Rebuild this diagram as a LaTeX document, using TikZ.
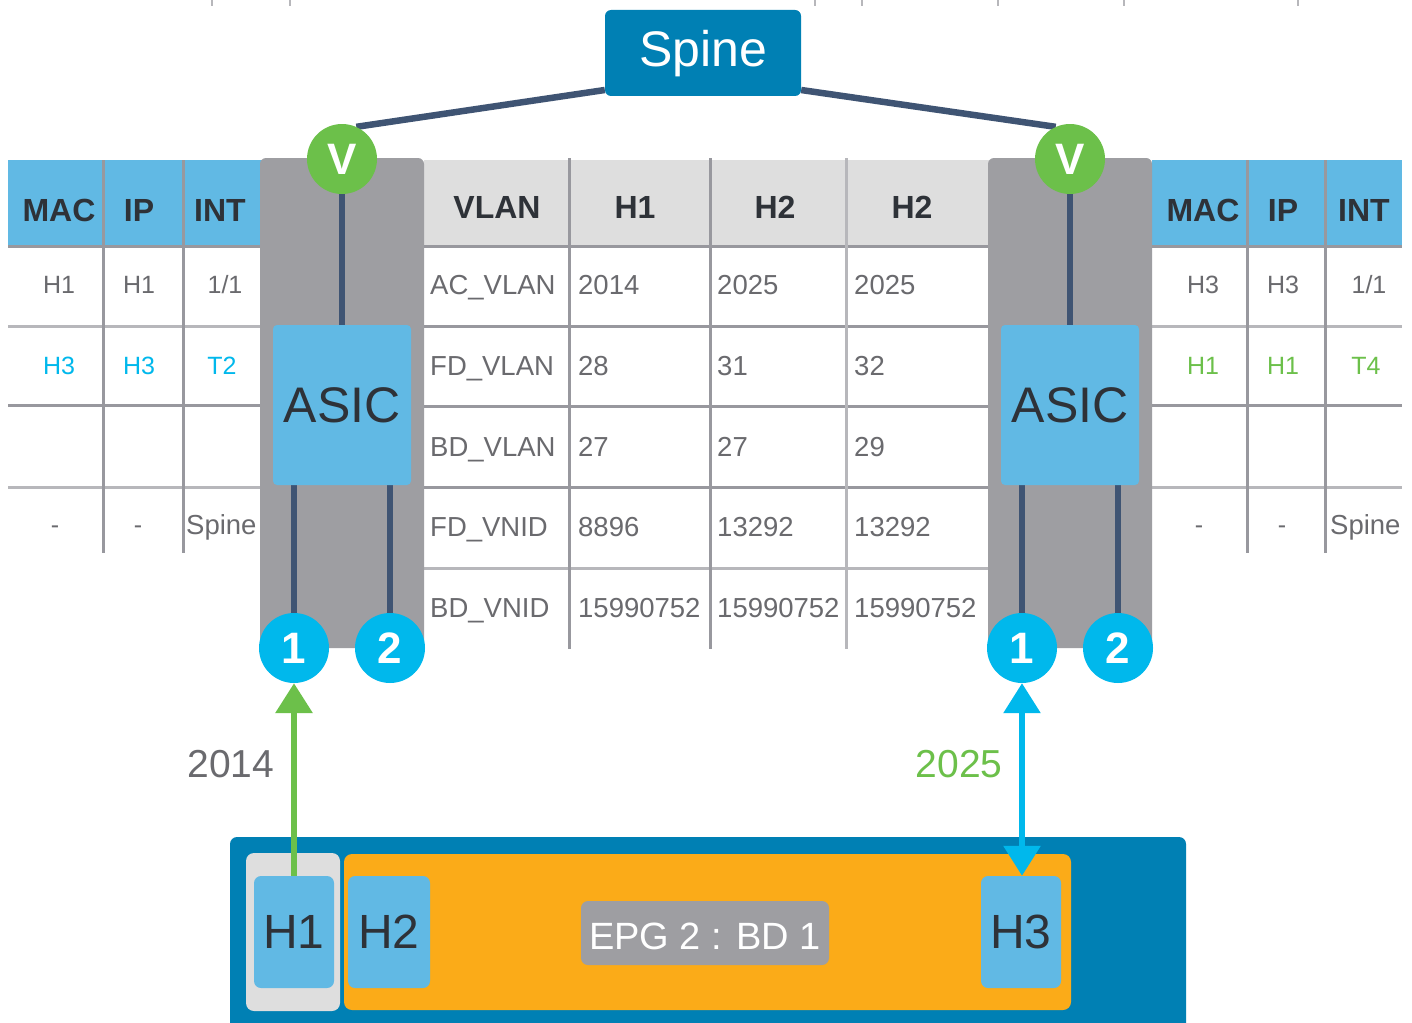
\documentclass[tikz,border=0pt]{standalone}
\usepackage{fontspec}
\setmainfont{Liberation Sans}
\usetikzlibrary{arrows.meta}
\pgfdeclarelayer{base}
\pgfdeclarelayer{linklayer}
\pgfsetlayers{base,linklayer,main}
\definecolor{teal}{HTML}{0080B4}
\definecolor{sky}{HTML}{61B9E4}
\definecolor{cyanb}{HTML}{00B8EC}
\definecolor{grn}{HTML}{6CC04A}
\definecolor{panel}{HTML}{9E9EA2}
\definecolor{navy}{HTML}{3F5473}
\definecolor{rule}{HTML}{98989E}
\definecolor{hdr}{HTML}{DEDEDE}
\definecolor{orng}{HTML}{FBAB18}
\definecolor{txt}{HTML}{6A6A6E}
\definecolor{dark}{HTML}{2E3238}
\tikzset{
 x=1pt,y=-1pt,
 cell/.style={font=\fontsize{25}{25}\selectfont,text=txt,inner sep=0pt,anchor=center},
 lcell/.style={font=\fontsize{27.5}{27.5}\selectfont,text=txt,inner sep=0pt,anchor=base west},
 head/.style={font=\fontsize{32}{32}\selectfont\bfseries,text=dark,inner sep=0pt,anchor=center},
 gridline/.style={rule,line width=3pt},
 link/.style={navy,line width=6.5pt},
 badge/.style={circle,minimum size=70pt,inner sep=0pt,text=white,font=\fontsize{44}{44}\selectfont\bfseries},
 asicbox/.style={fill=sky,rounded corners=4pt,minimum width=138pt,minimum height=160pt,inner sep=0pt,font=\fontsize{50}{50}\selectfont,text=dark},
 hostbox/.style={fill=sky,rounded corners=7pt,minimum width=80pt,minimum height=112pt,inner sep=0pt,font=\fontsize{48}{48}\selectfont,text=dark},
 panelbox/.style={fill=panel,rounded corners=6pt,minimum width=164pt,minimum height=490pt,inner sep=0pt},
}
\begin{document}
\begin{tikzpicture}
\useasboundingbox (0,0) rectangle (1412,1022);
\begin{pgfonlayer}{base}
\fill[white] (0,0) rectangle (1412,1022);
\foreach \t in {212,290,815,862,998,1124,1298}
  \draw[rule!70,line width=2.5pt] (\t,0) -- (\t,6);
\fill[sky] (8,160) rectangle (262,246);
\fill[sky] (1152,160) rectangle (1402,246);
\fill[hdr] (424,160) rectangle (990,246);
\foreach \y/\c in {246/rule,326/rule!70,405/rule,487/rule!70}{
  \draw[\c,line width=3pt] (8,\y) -- (262,\y);
  \draw[\c,line width=3pt] (1152,\y) -- (1402,\y);
}
\foreach \y/\c in {246/rule,326/rule,406/rule,487/rule,568/rule!70}
  \draw[\c,line width=3pt] (424,\y) -- (990,\y);
\foreach \x in {103,183,1247,1325}
  \draw[gridline] (\x,160) -- (\x,553);
\draw[gridline] (569,158) -- (569,649);
\draw[gridline] (710,158) -- (710,649);
\draw[rule!70,line width=3pt] (846,158) -- (846,649);
\node[panelbox] (pl) at (342,403) {};
\node[panelbox] (pr) at (1070,403) {};
\end{pgfonlayer}
% spine and nodes
\node[fill=teal,rounded corners=6pt,minimum width=196pt,minimum height=86pt,inner sep=0pt] (spine) at (703,53) {};
\node[text=white,font=\fontsize{50}{50}\selectfont,inner sep=0pt] (spinet) at (703,54) {Spine};
\node[badge,fill=grn] (vl) at (342,159) {V};
\node[badge,fill=grn] (vr) at (1070,159) {V};
\node[asicbox] (al) at (342,405) {ASIC};
\node[asicbox] (ar) at (1070,405) {ASIC};
\node[badge,fill=cyanb] (l1) at (294,648) {1};
\node[badge,fill=cyanb] (l2) at (390,648) {2};
\node[badge,fill=cyanb] (r1) at (1022,648) {1};
\node[badge,fill=cyanb] (r2) at (1118,648) {2};
\begin{pgfonlayer}{linklayer}
\draw[link] (spine.west |- 0,90) -- (vl.66);
\draw[link] (spine.east |- 0,90) -- (vr.114);
\draw[link] (vl) -- (al);
\draw[link] (vr) -- (ar);
\draw[link] (al.south -| l1) -- (l1);
\draw[link] (al.south -| l2) -- (l2);
\draw[link] (ar.south -| r1) -- (r1);
\draw[link] (ar.south -| r2) -- (r2);
\end{pgfonlayer}
% headers
\foreach \x/\t in {59/MAC,139/IP,220/INT,1203/MAC,1283/IP,1364/INT}
  \node[head] at (\x,210) {\t};
\foreach \x/\t in {497/VLAN,635/H1,775/H2,912/H2}
  \node[head] at (\x,207) {\t};
% left table body
\foreach \x/\t in {59/H1,139/H1,225/1\slash 1}
  \node[cell] at (\x,285) {\t};
\foreach \x/\t in {59/H3,139/H3,222/T2}
  \node[cell,text=cyanb] at (\x,366) {\t};
\node[cell] at (55,530) {-};
\node[cell] at (138,530) {-};
\node[lcell] at (186,534) {Spine};
% right table body
\foreach \x/\t in {1203/H3,1283/H3,1369/1\slash 1}
  \node[cell] at (\x,285) {\t};
\foreach \x/\t in {1203/H1,1283/H1,1366/T4}
  \node[cell,text=grn] at (\x,366) {\t};
\node[cell] at (1199,530) {-};
\node[cell] at (1282,530) {-};
\node[lcell] at (1330,534) {Spine};
% middle table
\foreach \y/\a/\b/\c/\d in {294/AC\_VLAN/2014/2025/2025,375/FD\_VLAN/28/31/32,456/BD\_VLAN/27/27/29,536/FD\_VNID/8896/13292/13292,617/BD\_VNID/15990752/15990752/15990752}{
  \node[lcell] at (430,\y) {\a};
  \node[lcell] at (578,\y) {\b};
  \node[lcell] at (717,\y) {\c};
  \node[lcell] at (854,\y) {\d};
}
% EPG band
\path[fill=teal,rounded corners=7pt] (230,1030) -- (230,837) -- (1186,837) -- (1186,1030) -- cycle;
\node[fill=hdr,rounded corners=8pt,minimum width=94pt,minimum height=158pt,inner sep=0pt] (hbg) at (293,932) {};
\node[fill=orng,rounded corners=8pt,minimum width=727pt,minimum height=156pt,inner sep=0pt] (epg) at (707.5,932) {};
\node[hostbox] (h1) at (294,932) {H1};
\node[hostbox,minimum width=82pt] (h2) at (389,932) {H2};
\node[hostbox] (h3) at (1021,932) {H3};
\node[fill=panel,rounded corners=7pt,minimum width=248pt,minimum height=64pt,inner sep=0pt] (lab) at (705,933) {};
\node[text=white,font=\fontsize{38}{38}\selectfont,inner sep=0pt] (labt) at (705,936) {EPG 2 : BD 1};
% arrows
\draw[grn,line width=6.5pt,-{Triangle[length=30pt,width=36pt]}] (h1.north -| l1) -- (l1.south);
\draw[cyanb,line width=6pt,{Triangle[length=30pt,width=36pt]}-{Triangle[length=30pt,width=36pt]}] (h3.north -| r1) -- (r1.south);
\node[font=\fontsize{39}{39}\selectfont,text=txt,inner sep=0pt] (v1) at (231,764) {2014};
\node[font=\fontsize{39}{39}\selectfont,text=grn,inner sep=0pt] (v2) at (959,764) {2025};
\end{tikzpicture}
\end{document}
